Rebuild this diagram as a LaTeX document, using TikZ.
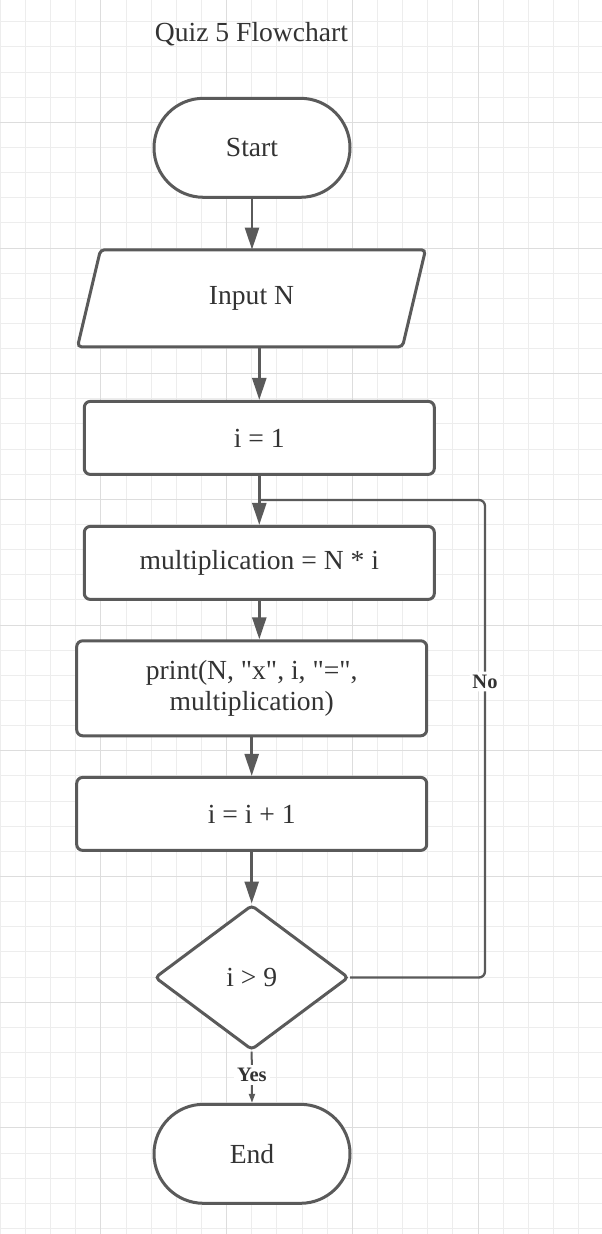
\documentclass[tikz,border=0pt]{standalone}
\usepackage{fontspec}
\setmainfont{Liberation Serif}
\usetikzlibrary{shapes.geometric,shapes.misc,arrows.meta}

\definecolor{linegray}{HTML}{5A5A5A}
\definecolor{textgray}{HTML}{333333}
\definecolor{gridminor}{HTML}{EDEDED}
\definecolor{gridmajor}{HTML}{DDDDDD}

\newcommand{\chartfont}{\fontsize{27.6}{31}\selectfont}
\newcommand{\branchfont}{\fontsize{20.5}{24}\selectfont\bfseries}
\newcommand{\qt}[1]{\textquotedbl#1\textquotedbl}

\tikzset{
	shapeline/.style={draw=linegray, line width=3pt, fill=white, text=textgray, font=\chartfont, inner sep=2pt},
	terminal/.style={shapeline, rounded rectangle, minimum width=200pt, minimum height=99pt},
	process/.style={shapeline, rectangle, rounded corners=6pt, minimum width=350pt, minimum height=73pt},
	decision/.style={shapeline, diamond, rounded corners=4pt, minimum width=194pt, minimum height=145pt},
	ioshape/.style={draw=linegray, line width=3pt, fill=white, rounded corners=4pt},
	iobox/.style={text=textgray, font=\chartfont, minimum width=302pt, minimum height=97pt},
	flowarrow/.style={linegray, line width=2.6pt, -{Triangle[length=22pt,width=14pt]}},
	looparrow/.style={linegray, line width=2.3pt, rounded corners=6pt},
	yesarrow/.style={linegray, line width=2pt, -{Triangle[length=9pt,width=6pt]}},
	branchlabel/.style={fill=white, text=textgray, font=\branchfont, inner sep=3pt},
}

\begin{document}
\begin{tikzpicture}[x=1pt,y=-1pt]
		\useasboundingbox (0,0) rectangle (602,1234);
		\fill[white] (0,0) rectangle (602,1234);
		
		% grid
		\begin{scope}
			\clip (0,0) rectangle (602,1234);
			\foreach \k in {-14,...,10}
				\draw[gridminor, line width=1pt] ({352.3+25.14*\k},0) -- ++(0,1234);
			\foreach \k in {-5,...,44}
				\draw[gridminor, line width=1pt] (0,{122.3+25.14*\k}) -- ++(602,0);
			\foreach \k in {-2,...,2}
				\draw[gridmajor, line width=1pt] ({352.3+125.7*\k},0) -- ++(0,1234);
			\foreach \k in {-1,...,8}
				\draw[gridmajor, line width=1pt] (0,{122.3+125.7*\k}) -- ++(602,0);
		\end{scope}
		
		\node [font=\chartfont, text=textgray] (title) at (251.5,34) {Quiz 5 Flowchart};
		
		\node [terminal] (start) at (252,147.8) {Start};
		
		\draw [ioshape] (100.5,249.8) -- (425.5,249.8) -- (402.5,346.8) -- (77.5,346.8) -- cycle;
		\node [iobox] (input) at (251.5,298.3) {Input N};
		
		\node [process] (init) at (259.3,437.9) {i = 1};
		\node [process] (mult) at (259.3,562.9) {multiplication = N * i};
		\node [process, minimum height=95pt, align=center] (print) at (251.7,688.3) {print(N, \qt{x}, i, \qt{=},\\multiplication)};
		\node [process] (incr) at (251.7,813.9) {i = i + 1};
		\node [decision] (check) at (251.7,977.5) {i > 9};
		\node [terminal] (finish) at (252,1153.8) {End};
		\coordinate (loop) at (485,500);
		
		\draw [flowarrow] (start.south) -- (start.south |- input.north);
		\draw [flowarrow] (init.north |- input.south) -- (init.north);
		\draw [flowarrow] (init.south) -- (mult.north);
		\draw [flowarrow] (mult.south) -- (mult.south |- print.north);
		\draw [flowarrow] (print.south) -- (incr.north);
		\draw [flowarrow] (incr.south) -- (check.north);
		
		\draw [looparrow] (check.east) -| node[branchlabel, pos=0.81] (no) {No} (loop) -- (loop -| mult.north);
		\draw [yesarrow] (check.south) -- node[branchlabel, pos=0.46] (yes) {Yes} (finish.north);
\end{tikzpicture}
\end{document}
